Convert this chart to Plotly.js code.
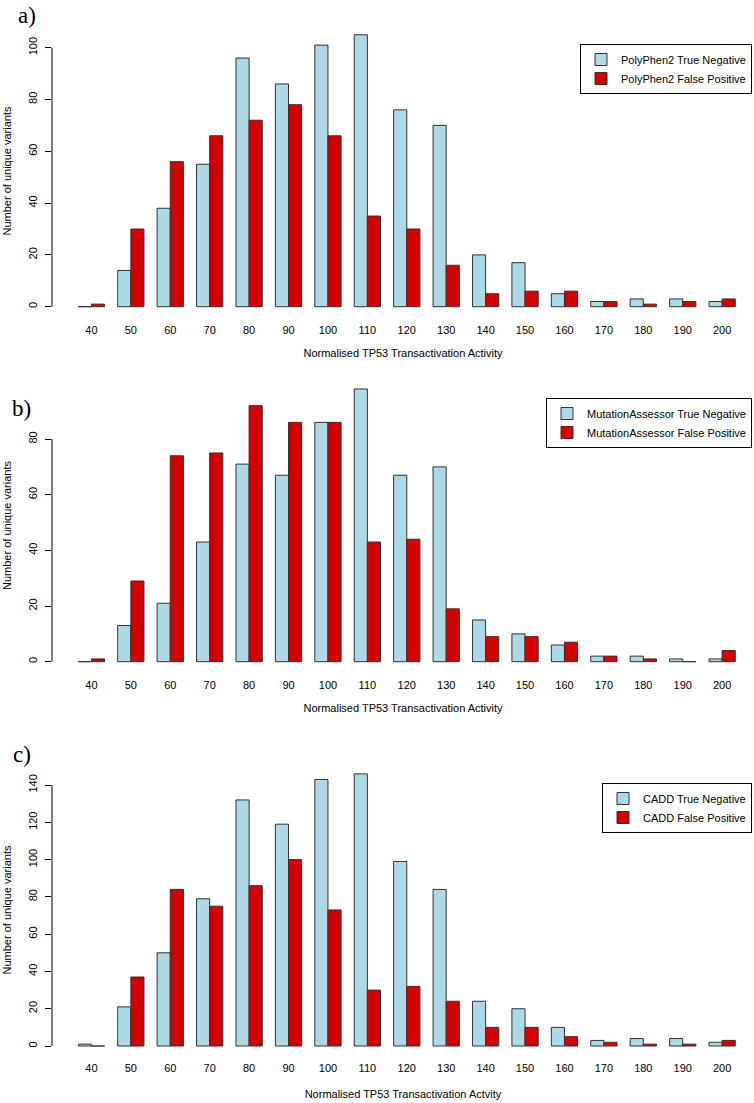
<!DOCTYPE html>
<html>
<head>
<meta charset="utf-8">
<script src="https://cdn.plot.ly/plotly-3.0.1.min.js"></script>
<style>
    body { margin: 0; background: #fff; }
    #tp53PlotDiv { width: 754px; height: 1103px; }
</style>
</head>
<body>
<div id="tp53PlotDiv"></div>
<script>
const tp53PlotDivId = "tp53PlotDiv"

// normalised TP53 transactivation activity bins
const activity = ["40", "50", "60", "70", "80", "90", "100", "110", "120",
    "130", "140", "150", "160", "170", "180", "190", "200"]

// a) PolyPhen2
const polyTrueNeg = [0, 14, 38, 55, 96, 86, 101, 105, 76, 70, 20, 17, 5, 2, 3, 3, 2]
const polyFalsePos = [1, 30, 56, 66, 72, 78, 66, 35, 30, 16, 5, 6, 6, 2, 1, 2, 3]

// b) MutationAssessor
const maTrueNeg = [0, 13, 21, 43, 71, 67, 86, 98, 67, 70, 15, 10, 6, 2, 2, 1, 1]
const maFalsePos = [1, 29, 74, 75, 92, 86, 86, 43, 44, 19, 9, 9, 7, 2, 1, 0, 4]

// c) CADD
const caddTrueNeg = [1, 21, 50, 79, 132, 119, 143, 146, 99, 84, 24, 20, 10, 3, 4, 4, 2]
const caddFalsePos = [0, 37, 84, 75, 86, 100, 73, 30, 32, 24, 10, 10, 5, 2, 1, 1, 3]

const yTicksA = [0, 20, 40, 60, 80, 100]
const yTicksB = [0, 20, 40, 60, 80]
const yTicksC = [0, 20, 40, 60, 80, 100, 120, 140]

const pageW = 754
const pageH = 1103
const marginL = 52

const blue = "#add8e6"
const red = "#d40000"
const edge = "#333333"
const sans = "Liberation Sans, Arial, Helvetica, sans-serif"

function makeBar(x, y, name, color, xa, ya, legend) {
    return {
        type: "bar",
        x: x,
        y: y,
        name: name,
        xaxis: xa,
        yaxis: ya,
        legend: legend,
        marker: {color: color, line: {color: edge, width: 1}},
        hoverinfo: "x+y+name"
    }
}

function yPanel(top, bottom, zeroPx, pxPerUnit, ticks, anchor) {
    // work out domain and range from pixel positions on the page
    return {
        domain: [1 - bottom / pageH, 1 - top / pageH],
        range: [(zeroPx - bottom) / pxPerUnit, (zeroPx - top) / pxPerUnit],
        anchor: anchor,
        showgrid: false,
        zeroline: false,
        showline: false,
        ticks: "outside",
        ticklen: 6,
        tickwidth: 1,
        tickcolor: "#000",
        tickvals: ticks,
        tickangle: -90,
        ticklabelstandoff: 4,
        tickfont: {family: sans, size: 11, color: "#000"},
        title: {text: "Number of unique variants", font: {family: sans, size: 11, color: "#000"}, standoff: 12}
    }
}

function xPanel(anchor, titleText, labelGap, titleGap) {
    let plotW = pageW - marginL
    return {
        type: "category",
        domain: [0, 1],
        anchor: anchor,
        range: [-1, -1 + plotW / 39.42],
        showgrid: false,
        zeroline: false,
        showline: false,
        ticks: "",
        ticklabelstandoff: labelGap,
        tickfont: {family: sans, size: 11, color: "#000"},
        title: {text: titleText, font: {family: sans, size: 11, color: "#000"}, standoff: titleGap}
    }
}

function axisLine(yref, top) {
    return {
        type: "line", xref: "paper", yref: yref,
        x0: 0, x1: 0, y0: 0, y1: top,
        line: {color: "#000", width: 1}
    }
}

function panelLegend(rightPx, topPx) {
    return {
        x: (rightPx - marginL) / (pageW - marginL),
        y: 1 - topPx / pageH,
        xanchor: "right",
        yanchor: "top",
        bgcolor: "#fff",
        bordercolor: "#000",
        borderwidth: 1,
        font: {family: sans, size: 11, color: "#000"}
    }
}

function panelLabel(text, leftPx, midPx) {
    return {
        text: text,
        xref: "paper", yref: "paper",
        x: (leftPx - marginL) / (pageW - marginL),
        y: 1 - midPx / pageH,
        xanchor: "left", yanchor: "middle",
        showarrow: false,
        font: {family: "Liberation Serif, Times New Roman, serif", size: 23, color: "#000"}
    }
}

function makePlot() {
    let plotData = [
        makeBar(activity, polyTrueNeg, "PolyPhen2 True Negative", blue, "x", "y", "legend"),
        makeBar(activity, polyFalsePos, "PolyPhen2 False Positive", red, "x", "y", "legend"),
        makeBar(activity, maTrueNeg, "MutationAssessor True Negative", blue, "x2", "y2", "legend2"),
        makeBar(activity, maFalsePos, "MutationAssessor False Positive", red, "x2", "y2", "legend2"),
        makeBar(activity, caddTrueNeg, "CADD True Negative", blue, "x3", "y3", "legend3"),
        makeBar(activity, caddFalsePos, "CADD False Positive", red, "x3", "y3", "legend3")
    ]

    let layout = {
        width: pageW,
        height: pageH,
        margin: {l: marginL, r: 0, t: 0, b: 0},
        paper_bgcolor: "#fff",
        plot_bgcolor: "#fff",
        font: {family: sans, size: 11, color: "#000"},
        barmode: "group",
        bargap: 1 / 3,
        bargroupgap: 0,
        showlegend: true,
        xaxis: xPanel("y", "Normalised TP53 Transactivation Activity", 4, 14),
        xaxis2: xPanel("y2", "Normalised TP53 Transactivation Activity", 4, 14),
        xaxis3: xPanel("y3", "Normalised TP53 Transactivation Actvity", 3, 17),
        yaxis: yPanel(24, 318, 306.7, 2.59, yTicksA, "x"),
        yaxis2: yPanel(378, 673, 661.7, 2.783, yTicksB, "x2"),
        yaxis3: yPanel(763, 1057, 1046, 1.864, yTicksC, "x3"),
        legend: panelLegend(752, 44),
        legend2: panelLegend(752, 398),
        legend3: panelLegend(752, 783),
        shapes: [
            axisLine("y", yTicksA[yTicksA.length - 1]),
            axisLine("y2", yTicksB[yTicksB.length - 1]),
            axisLine("y3", yTicksC[yTicksC.length - 1])
        ],
        annotations: [
            panelLabel("a)", 16, 15),
            panelLabel("b)", 10, 408),
            panelLabel("c)", 11, 754)
        ]
    }

    let config = {
        responsive: false,
        displayModeBar: false
    }

    Plotly.newPlot(tp53PlotDivId, plotData, layout, config)
}

makePlot()
</script>
</body>
</html>
